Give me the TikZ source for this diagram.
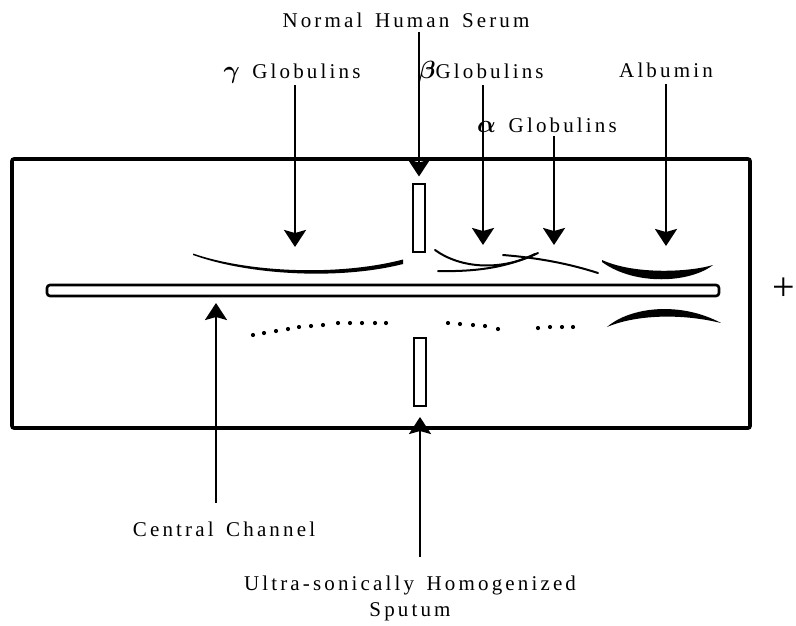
\documentclass[tikz,border=0pt]{standalone}
\usepackage{fontspec}
\usepackage{bm}
\setmainfont{Liberation Serif}[LetterSpace=15, WordSpace=1.5]
\newfontfamily\plusfont{Liberation Serif}
\newcommand{\gk}[1]{{\fontsize{24}{24}\selectfont$\bm#1$}}
\usetikzlibrary{arrows.meta,positioning}

\begin{document}
\begin{tikzpicture}[x=1pt, y=-1pt,
  lb/.style={inner sep=0pt, text height=15pt, text depth=4pt,
             font=\fontsize{21}{24}\selectfont},
  ar/.style={line width=2.6pt, -{Stealth[length=17pt,width=22pt,inset=3pt]}},
  sl/.style={draw, line width=2pt, minimum width=12pt, minimum height=68pt, inner sep=0pt},
  bd/.style={line width=2pt, line cap=round},
  dt/.style={fill, radius=2.1pt}]
\useasboundingbox (0,0) rectangle (796,625);
% trough, channel and wells
\draw[line width=3.6pt, rounded corners=2pt] (12,159) rectangle (750,428);
\node[draw, line width=2.6pt, rounded corners=3pt, minimum width=672pt,
      minimum height=11pt, inner sep=0pt] (chan) at (383,290.5) {};
\node[sl] (ts) at (419,217.5) {};
\node[sl] (bs) at (420,372) {};
\node[font=\plusfont\fontsize{40}{40}\selectfont, inner sep=0pt] (plus) at (784,289) {+};
% labels
\node[lb, anchor=base] (serum) at (406,27) {Normal Human Serum};
\node[lb, anchor=base] (gam) at (292,78) {\gk\gamma\ Globulins};
\node[lb, anchor=base] (bet) at (481,78) {\gk\beta Globulins};
\node[lb, anchor=base] (alp) at (547,132) {\gk\alpha\ Globulins};
\node[lb, anchor=base] (alb) at (666,77) {Albumin};
\node[lb, anchor=base] (cc) at (224,536) {Central Channel};
\node[lb, anchor=base] (us) at (410,590) {Ultra-sonically Homogenized};
\node[lb, below=7pt of us] (sp) {Sputum};
% arrow tips
\coordinate (tg) at (295,247);
\coordinate (tb) at (483,245);
\coordinate (ta) at (554,245);
\coordinate (tl) at (666,246);
\coordinate (tc) at (216,303);
% arrows
\draw[ar, shorten <=1pt] (serum.south -| ts.north) -- ([yshift=6pt]ts.north);
\draw[ar, shorten <=3pt] (gam.south -| tg) -- (tg);
\draw[ar, shorten <=3pt] (bet.south -| tb) -- (tb);
\draw[ar] (alp.south -| ta) -- (ta);
\draw[ar, shorten <=3pt] (alb.south -| tl) -- (tl);
\draw[ar, shorten <=18pt] (cc.north -| tc) -- (tc);
\draw[ar, shorten <=18pt] (us.north -| bs.south) -- ([yshift=-10pt]bs.south);
% precipitin lines
\fill (193,253.5) .. controls (250,273) and (340,276) .. (403,259.5)
  -- (403,264) .. controls (340,280) and (250,275.5) .. (193,255) -- cycle;
\draw[bd] (435,250) .. controls (460,268) and (500,272) .. (538,253);
\draw[bd] (438,271) .. controls (480,272) and (510,266) .. (535,254);
\draw[bd] (503,255) .. controls (540,258) and (570,264) .. (598,273);
\fill (602,260) .. controls (635,275) and (690,272) .. (713,265)
  .. controls (690,283) and (635,286) .. (602,262) -- cycle;
\fill (607,327) .. controls (630,307) and (680,301) .. (721,323)
  .. controls (680,313) and (635,315) .. (607,327) -- cycle;
\foreach \x/\y in {253/335, 264/333, 276/331, 288/329, 299/327, 311/326,
  323/325, 338/323, 350/323, 362/323, 375/323, 386/323,
  448/323, 460/324, 473/325, 485/326, 498/329,
  538/328, 550/327, 562/327, 573/327}
  \fill[dt] (\x,\y) circle;
\end{tikzpicture}
\end{document}
